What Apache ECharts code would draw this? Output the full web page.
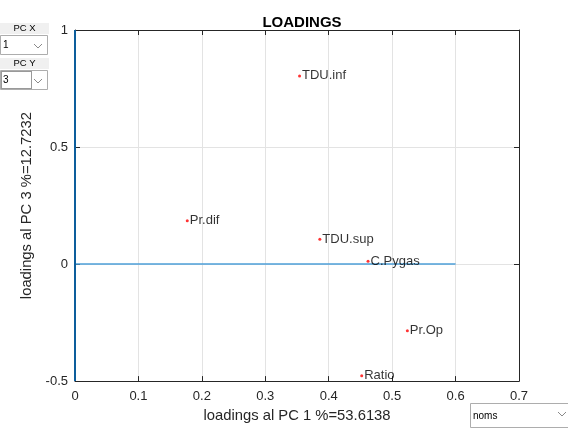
<!DOCTYPE html>
<html>
<head>
<meta charset="utf-8">
<script src="https://cdn.jsdelivr.net/npm/echarts@6/dist/echarts.min.js"></script>
<style>
  html, body { margin: 0; padding: 0; background: #fff; }
  #chart { width: 568px; height: 428px; }
</style>
</head>
<body>
<div id="chart"></div>
<script>
// Variable names and their loadings on PC 1 (x) and PC 3 (y)
const varNames = ['TDU.inf', 'Pr.dif', 'TDU.sup', 'C.Pygas', 'Pr.Op', 'Ratio'];
const loadPC1 = [0.354, 0.177, 0.386, 0.462, 0.524, 0.452];
const loadPC3 = [0.804, 0.185, 0.106, 0.012, -0.285, -0.477];

// Reference lines through the origin
const zeroLineH = [[0, 0], [0.6, 0]];
const zeroLineV = [[0, -0.5], [0, 1]];

// Axis captions and control values
const titleText = 'LOADINGS';
const xName = 'loadings al PC 1 %=53.6138';
const yName = 'loadings al PC 3 %=12.7232';
const pcX = '1';
const pcY = '3';
const labelMode = 'noms';

const FONT = '"Liberation Sans", Arial, Helvetica, sans-serif';
const AXIS_COLOR = '#262626';

const chart = echarts.init(document.getElementById('chart'), null, { renderer: 'canvas' });

function chevron(cx, cy) {
  return {
    type: 'polyline',
    shape: { points: [[cx - 4, cy - 2], [cx, cy + 2], [cx + 4, cy - 2]] },
    style: { stroke: '#8a8a8a', lineWidth: 1, fill: null },
    z: 10
  };
}

function labelBox(y, text) {
  return [
    { type: 'rect', shape: { x: 0, y: y, width: 49, height: 11 }, style: { fill: '#f0f0f0' }, z: 10 },
    { type: 'text', x: 24.5, y: y + 5.5, style: { text: text, font: '9.5px ' + FONT, fill: '#000', align: 'center', verticalAlign: 'middle' }, z: 11 }
  ];
}

function dropBox(x, y, w, h, text, focus) {
  const els = [
    { type: 'rect', shape: { x: x + 0.5, y: y + 0.5, width: w, height: h }, style: { fill: '#fff', stroke: '#adadad', lineWidth: 1 }, z: 10 },
    { type: 'text', x: x + 3, y: y + h / 2 + 1, style: { text: text, font: '10px ' + FONT, fill: '#000', align: 'left', verticalAlign: 'middle' }, z: 11 }
  ];
  if (focus) {
    els.push({ type: 'rect', shape: { x: x + 1.5, y: y + 1.5, width: 30, height: h - 2 }, style: { fill: null, stroke: '#333', lineWidth: 1, lineDash: [1, 1] }, z: 11 });
  }
  return els;
}

const graphics = []
  .concat(labelBox(23, 'PC X'))
  .concat(dropBox(0, 35, 47, 19, pcX, false))
  .concat([chevron(38, 46)])
  .concat(labelBox(58, 'PC Y'))
  .concat(dropBox(0, 70, 47, 19, pcY, true))
  .concat([chevron(38, 81)])
  .concat(dropBox(470, 403, 110, 24, labelMode, false))
  .concat([chevron(562, 414)]);

const option = {
  animation: false,
  backgroundColor: '#fff',
  title: {
    text: titleText,
    left: 297,
    textAlign: 'center',
    top: 10,
    textStyle: { fontFamily: FONT, fontSize: 15, fontWeight: 'bold', color: '#000' }
  },
  grid: { left: 75, right: 49, top: 30, bottom: 46, show: false },
  xAxis: [
    {
      type: 'value', min: 0, max: 0.7, interval: 0.1,
      name: xName, nameLocation: 'middle', nameGap: 24,
      nameTextStyle: { fontFamily: FONT, fontSize: 14.8, color: '#262626' },
      axisLine: { show: true, onZero: false, lineStyle: { color: AXIS_COLOR, width: 1 } },
      axisTick: { show: true, inside: true, length: 5, lineStyle: { color: AXIS_COLOR } },
      axisLabel: { fontFamily: FONT, fontSize: 13, color: '#262626', margin: 9, formatter: v => String(+v.toFixed(1)) },
      splitLine: { show: true, lineStyle: { color: '#e3e3e3', width: 1 } }
    },
    {
      type: 'value', position: 'top', min: 0, max: 0.7, interval: 0.1,
      axisLine: { show: true, onZero: false, lineStyle: { color: AXIS_COLOR, width: 1 } },
      axisTick: { show: true, inside: true, length: 5, lineStyle: { color: AXIS_COLOR } },
      axisLabel: { show: false },
      splitLine: { show: false }
    }
  ],
  yAxis: [
    {
      type: 'value', min: -0.5, max: 1, interval: 0.5,
      name: yName, nameLocation: 'middle', nameGap: 34,
      nameTextStyle: { fontFamily: FONT, fontSize: 14.8, color: '#262626' },
      axisLine: { show: true, onZero: false, lineStyle: { color: AXIS_COLOR, width: 1 } },
      axisTick: { show: true, inside: true, length: 5, lineStyle: { color: AXIS_COLOR } },
      axisLabel: { fontFamily: FONT, fontSize: 13, color: '#262626', margin: 7, formatter: v => String(+v.toFixed(1)) },
      splitLine: { show: true, lineStyle: { color: '#e3e3e3', width: 1 } }
    },
    {
      type: 'value', position: 'right', min: -0.5, max: 1, interval: 0.5,
      axisLine: { show: true, onZero: false, lineStyle: { color: AXIS_COLOR, width: 1 } },
      axisTick: { show: true, inside: true, length: 5, lineStyle: { color: AXIS_COLOR } },
      axisLabel: { show: false },
      splitLine: { show: false }
    }
  ],
  series: [
    {
      type: 'line', data: zeroLineH, symbol: 'none', silent: true,
      lineStyle: { color: '#4d9fd9', width: 1.5 }, z: 3
    },
    {
      type: 'line', data: zeroLineV, symbol: 'none', silent: true,
      lineStyle: { color: '#0d5e9c', width: 2 }, z: 3
    },
    {
      type: 'scatter',
      data: varNames.map((n, i) => ({ name: n, value: [loadPC1[i], loadPC3[i]] })),
      symbol: 'circle', symbolSize: 3,
      itemStyle: { color: '#ff0000' },
      label: {
        show: true, position: 'right', distance: 1,
        formatter: p => p.name,
        fontFamily: FONT, fontSize: 13, color: '#000'
      },
      z: 5
    }
  ],
  graphic: graphics
};

chart.setOption(option);
</script>
</body>
</html>
